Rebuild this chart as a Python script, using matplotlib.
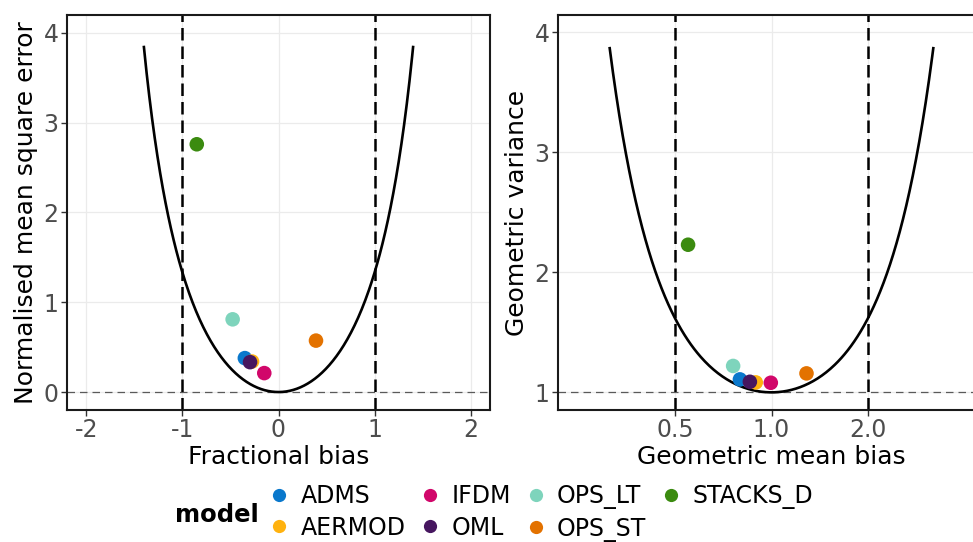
import numpy as np
import matplotlib
matplotlib.use("Agg")
import matplotlib.pyplot as plt
from matplotlib.lines import Line2D

# model performance metrics
models = ["ADMS", "AERMOD", "IFDM", "OML", "OPS_LT", "OPS_ST", "STACKS_D"]
colours = ["#0A78CC", "#FFB20F", "#D1076A", "#46165F", "#7ED4BC", "#E37200", "#3B8B10"]
fb = [-0.35, -0.275, -0.148, -0.296, -0.477, 0.39, -0.85]
nmse = [0.378, 0.34, 0.211, 0.333, 0.81, 0.573, 2.76]
mg = [0.797, 0.893, 0.995, 0.856, 0.759, 1.286, 0.549]
vg = [1.108, 1.083, 1.08, 1.088, 1.22, 1.158, 2.23]

fb_ticks = [-2, -1, 0, 1, 2]
mg_ticks = [0.5, 1.0, 2.0]
mg_labels = ["0.5", "1.0", "2.0"]

tick_col = "#4D4D4D"
grid_col = "#EBEBEB"

fig = plt.figure(figsize=(9.73, 5.42), dpi=100)
ax1 = fig.add_axes([67 / 973, 132 / 542, 423 / 973, 395 / 542])
ax2 = fig.add_axes([558 / 973, 132 / 542, 427 / 973, 395 / 542])


def style(ax):
    for sp in ax.spines.values():
        sp.set_linewidth(1.5)
        sp.set_color("#1A1A1A")
    ax.tick_params(labelsize=17, labelcolor=tick_col, color="#333333",
                   length=4, width=1, pad=2)
    ax.grid(True, color=grid_col, linewidth=0.9, zorder=0)
    ax.set_axisbelow(True)


# left: fractional bias vs NMSE
x = np.linspace(-1.4, 1.4, 300)
ax1.axhline(0, color="#5A5A5A", linewidth=0.9, dashes=(6, 4), zorder=1)
for v in [-1, 1]:
    ax1.axvline(v, color="black", linewidth=1.8, dashes=(5, 2.4), zorder=2)
ax1.plot(x, 4 * x ** 2 / (4 - x ** 2), color="black", linewidth=1.9, zorder=3)
ax1.scatter(fb, nmse, c=colours, s=110, edgecolors="none", zorder=4)
ax1.set_xlim(-2.2, 2.2)
ax1.set_ylim(-0.2, 4.2)
ax1.set_xticks(fb_ticks)
ax1.set_xticklabels([str(t) for t in fb_ticks])
ax1.set_yticks([0, 1, 2, 3, 4])
ax1.set_xlabel("Fractional bias", fontsize=18, labelpad=2)
ax1.set_ylabel("Normalised mean square error", fontsize=18, labelpad=4)
style(ax1)

# right: geometric mean bias vs geometric variance
lm = np.linspace(-1.163, 1.163, 300)
ax2.set_xscale("log")
ax2.axhline(1, color="#5A5A5A", linewidth=0.9, dashes=(6, 4), zorder=1)
for v in [0.5, 2.0]:
    ax2.axvline(v, color="black", linewidth=1.8, dashes=(5, 2.4), zorder=2)
ax2.plot(np.exp(lm), np.exp(lm ** 2), color="black", linewidth=1.9, zorder=3)
ax2.scatter(mg, vg, c=colours, s=110, edgecolors="none", zorder=4)
ax2.set_xlim(2 ** -2.214, 2 ** 2.214)
ax2.set_ylim(0.853, 4.144)
ax2.set_xticks(mg_ticks)
ax2.set_xticklabels(mg_labels)
ax2.minorticks_off()
ax2.set_yticks([1, 2, 3, 4])
ax2.set_xlabel("Geometric mean bias", fontsize=18, labelpad=2)
ax2.set_ylabel("Geometric variance", fontsize=18, labelpad=4)
style(ax2)

# legend at the bottom
handles = [Line2D([], [], linestyle="none", marker="o", markersize=9.5,
                  markerfacecolor=c, markeredgecolor="none") for c in colours]
fig.legend(handles, models, loc="center left", bbox_to_anchor=(272 / 973, 1 - 513 / 542),
           ncol=4, frameon=False, fontsize=17, handlelength=0.6, handletextpad=0.6,
           columnspacing=0.75, labelspacing=0.3, borderpad=0, borderaxespad=0)
fig.text(175 / 973, 1 - 515 / 542, "model", fontsize=17.5, fontweight="bold",
         ha="left", va="center")

fig.savefig("out.png", dpi=100)
